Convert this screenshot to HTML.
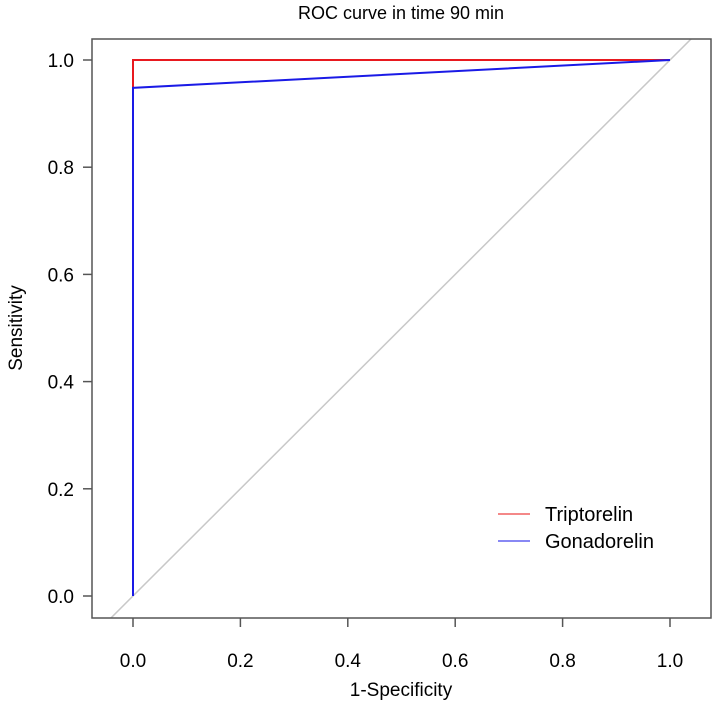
<!DOCTYPE html>
<html><head><meta charset="utf-8"><style>
html,body{margin:0;padding:0;background:#fff;overflow:hidden;width:713px;height:707px}
svg{display:block}
text{font-family:"Liberation Sans",Arial,sans-serif;fill:#000}
</style></head><body>
<svg width="713" height="707" viewBox="0 0 713 707">
<defs><clipPath id="pc"><rect x="92" y="39" width="619" height="579"/></clipPath></defs>
<g id="plot"></g>
</svg>
<script>
const xTicks=[0,0.2,0.4,0.6,0.8,1.0];
const yTicks=[0,0.2,0.4,0.6,0.8,1.0];
const triFpr=[0,0,1];
const triTpr=[0,1,1];
const gonFpr=[0,0,1];
const gonTpr=[0,0.948,1];
const X=v=>133+v*537, Y=v=>596-v*536;
const g=document.getElementById('plot');
const NS='http://www.w3.org/2000/svg';
function mk(t,a){const e=document.createElementNS(NS,t);for(const k in a)e.setAttribute(k,a[k]);g.appendChild(e);return e;}
let e;
e=mk('line',{x1:X(-1),y1:Y(-1),x2:X(2),y2:Y(2),stroke:'#c8c8c8','stroke-width':1.5,'clip-path':'url(#pc)'});


e=mk('rect',{x:92,y:39,width:619,height:579,fill:'none',stroke:'#555','stroke-width':1.5});


xTicks.forEach(v=>{
 e=mk('line',{x1:X(v),x2:X(v),y1:618,y2:627,stroke:'#555','stroke-width':1.5});
 
 
 e=mk('text',{x:X(v),y:667,'text-anchor':'middle','font-size':19});e.textContent=v.toFixed(1);
 
 
});
yTicks.forEach(v=>{
 e=mk('line',{x1:83,x2:92,y1:Y(v),y2:Y(v),stroke:'#555','stroke-width':1.5});
 
 
 e=mk('text',{x:74,y:Y(v)+7,'text-anchor':'end','font-size':19});e.textContent=v.toFixed(1);
 
 
});
function path(xs,ys,c,name){
 const d=xs.map((x,i)=>(i?'L':'M')+X(x)+' '+Y(ys[i])).join(' ');
 e=mk('path',{d:d,fill:'none',stroke:c,'stroke-width':2});
 
 
}
path(triFpr,triTpr,'#e8191f','triptorelin-curve');
path(gonFpr,gonTpr,'#1a1ae6','gonadorelin-curve');
e=mk('text',{x:401,y:19,'text-anchor':'middle','font-size':18});e.textContent='ROC curve in time 90 min';


e=mk('text',{x:401,y:696,'text-anchor':'middle','font-size':19});e.textContent='1-Specificity';


e=mk('text',{x:22,y:328,'text-anchor':'middle','font-size':19,transform:'rotate(-90 22 328)'});e.textContent='Sensitivity';


[['Triptorelin','#f06060',514],['Gonadorelin','#6060f0',541]].forEach(([n,c,y])=>{
 e=mk('line',{x1:498,x2:530,y1:y,y2:y,stroke:c,'stroke-width':1.5});
 
 
 e=mk('text',{x:545,y:y+7,'font-size':20});e.textContent=n;
 
 
});
</script>
</body></html>
